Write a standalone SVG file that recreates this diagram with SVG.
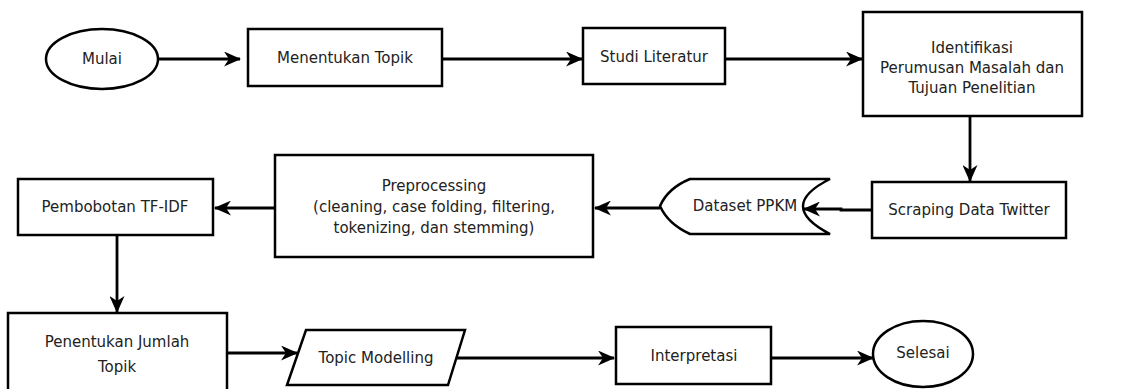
<svg xmlns="http://www.w3.org/2000/svg" width="1132" height="389" viewBox="0 0 1132 389">
<style>
.s{fill:#fff;stroke:#000;stroke-width:2.5}
.t{font-family:"DejaVu Sans",Verdana,sans-serif;font-size:15px;fill:#222;text-anchor:middle;dominant-baseline:central}
.c{fill:none;stroke:#000;stroke-width:2.8}
</style>
<defs>
<marker id="ah" viewBox="0 0 17 15" refX="16" refY="7.5" markerWidth="17" markerHeight="15" markerUnits="userSpaceOnUse" orient="auto">
<path d="M0,0 L17,7.5 L0,15 L5,7.5 Z" fill="#000"/>
</marker>
</defs>
<rect width="1132" height="389" fill="#fff"/>
<g id="connectors">
<line class="c" x1="158" y1="59" x2="240" y2="59" marker-end="url(#ah)"/>
<line class="c" x1="442" y1="59" x2="582" y2="59" marker-end="url(#ah)"/>
<line class="c" x1="725" y1="59" x2="862" y2="59" marker-end="url(#ah)"/>
<line class="c" x1="970" y1="116" x2="970" y2="181" marker-end="url(#ah)"/>
<polyline class="c" points="872,210 841,210 841,209 804,209" marker-end="url(#ah)"/>
<line class="c" x1="660" y1="208" x2="595" y2="208" marker-end="url(#ah)"/>
<line class="c" x1="275" y1="208" x2="215" y2="208" marker-end="url(#ah)"/>
<line class="c" x1="117" y1="235" x2="117" y2="312" marker-end="url(#ah)"/>
<line class="c" x1="227" y1="353" x2="297" y2="353" marker-end="url(#ah)"/>
<line class="c" x1="457" y1="358" x2="614" y2="358" marker-end="url(#ah)"/>
<line class="c" x1="771" y1="358" x2="873" y2="358" marker-end="url(#ah)"/>
</g>
<g id="mulai">
<ellipse class="s" cx="102" cy="59" rx="56" ry="30"/>
<text class="t" x="102" y="59">Mulai</text>
</g>
<g id="menentukan-topik">
<rect class="s" x="248" y="29" width="194" height="57"/>
<text class="t" x="345" y="58">Menentukan Topik</text>
</g>
<g id="studi-literatur">
<rect class="s" x="583" y="28" width="142" height="56"/>
<text class="t" x="654" y="57">Studi Literatur</text>
</g>
<g id="identifikasi">
<rect class="s" x="863" y="12" width="219" height="104"/>
<text class="t" x="972" y="48">Identifikasi</text>
<text class="t" x="972" y="68">Perumusan Masalah dan</text>
<text class="t" x="972" y="88">Tujuan Penelitian</text>
</g>
<g id="scraping">
<rect class="s" x="872" y="182" width="194" height="56"/>
<text class="t" x="969" y="210">Scraping Data Twitter</text>
</g>
<g id="dataset">
<path class="s" d="M690,179 L830,179 Q776,206 830,234 L690,234 Q668,224 660,206 Q668,188 690,179 Z"/>
<text class="t" x="745" y="206">Dataset PPKM</text>
</g>
<g id="preprocessing">
<rect class="s" x="275" y="155" width="318" height="102"/>
<text class="t" x="434" y="186">Preprocessing</text>
<text class="t" x="434" y="207">(cleaning, case folding, filtering,</text>
<text class="t" x="434" y="228">tokenizing, dan stemming)</text>
</g>
<g id="tfidf">
<rect class="s" x="18" y="179" width="195" height="56"/>
<text class="t" x="115" y="207">Pembobotan TF-IDF</text>
</g>
<g id="penentukan-jumlah">
<rect class="s" x="8" y="313" width="219" height="90"/>
<text class="t" x="117" y="342">Penentukan Jumlah</text>
<text class="t" x="117" y="367">Topik</text>
</g>
<g id="topic-modelling">
<polygon class="s" points="306,330 465,330 448,385 287,385"/>
<text class="t" x="376" y="358">Topic Modelling</text>
</g>
<g id="interpretasi">
<rect class="s" x="616" y="327" width="155" height="57"/>
<text class="t" x="694" y="356">Interpretasi</text>
</g>
<g id="selesai">
<ellipse class="s" cx="923" cy="354" rx="50" ry="33"/>
<text class="t" x="923" y="353">Selesai</text>
</g>
</svg>
